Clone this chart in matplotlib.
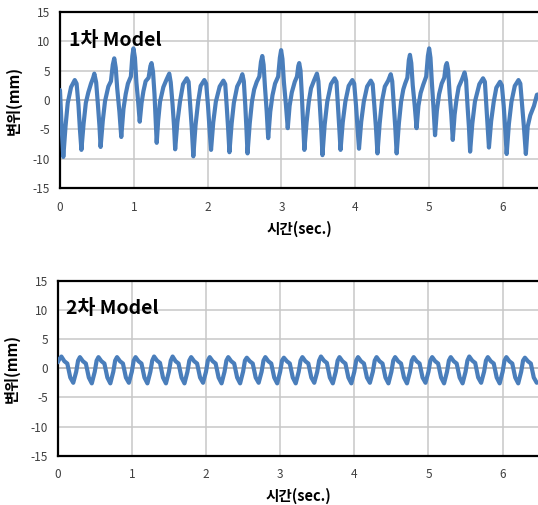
import matplotlib
matplotlib.use('Agg')
import matplotlib.pyplot as plt

plt.rcParams['font.family'] = ['Noto Sans CJK KR', 'DejaVu Sans']
plt.rcParams['axes.unicode_minus'] = False

# ---------------------
# data
# ---------------------
x_ticks = [0, 1, 2, 3, 4, 5, 6]
y_ticks = [-15, -10, -5, 0, 5, 10, 15]
titles = ['1차 Model', '2차 Model']
x_label = '시간(sec.)'
y_label = '변위(mm)'

# 1차 Model displacement
t1 = [0.000, 0.020, 0.045, 0.075, 0.105, 0.150, 0.200, 0.225, 0.250, 0.270,
      0.290, 0.320, 0.350, 0.384, 0.420, 0.450, 0.465, 0.490, 0.515, 0.535,
      0.550, 0.580, 0.610, 0.655, 0.690, 0.715, 0.735, 0.755, 0.775, 0.805,
      0.830, 0.860, 0.890, 0.920, 0.960, 0.980, 0.995, 1.015, 1.035, 1.060,
      1.080, 1.105, 1.130, 1.160, 1.200, 1.225, 1.240, 1.260, 1.280, 1.295,
      1.310, 1.330, 1.355, 1.400, 1.440, 1.480, 1.500, 1.525, 1.545,
      1.560, 1.590, 1.625, 1.667, 1.717, 1.742, 1.765, 1.785,
      1.806, 1.836, 1.871, 1.905, 1.955, 1.980, 2.005, 2.025,
      2.046, 2.076, 2.111, 2.163, 2.213, 2.238, 2.258, 2.277,
      2.295, 2.325, 2.355, 2.400, 2.440, 2.470, 2.490, 2.510, 2.525,
      2.540, 2.570, 2.600, 2.630, 2.665, 2.700, 2.722, 2.740, 2.758, 2.775, 2.800,
      2.820, 2.848, 2.878, 2.913, 2.955, 2.978, 2.995, 3.013, 3.033, 3.060,
      3.085, 3.110, 3.140, 3.180, 3.210, 3.228, 3.240, 3.258, 3.275, 3.292,
      3.310, 3.340, 3.370, 3.400, 3.440, 3.480, 3.500, 3.520, 3.538,
      3.555, 3.585, 3.620, 3.670, 3.720, 3.745, 3.765, 3.783,
      3.800, 3.830, 3.865, 3.910, 3.960, 3.985, 4.010, 4.030,
      4.050, 4.080, 4.115, 4.160, 4.210, 4.235, 4.258, 4.280,
      4.300, 4.330, 4.360, 4.400, 4.445, 4.480, 4.500, 4.522, 4.542,
      4.560, 4.590, 4.620, 4.650, 4.675, 4.705, 4.725, 4.740, 4.758, 4.778, 4.805,
      4.830, 4.855, 4.885, 4.920, 4.960, 4.983, 5.000, 5.018, 5.037, 5.060,
      5.080, 5.105, 5.135, 5.170, 5.205, 5.225, 5.240, 5.258, 5.277, 5.300,
      5.320, 5.345, 5.370, 5.400, 5.445, 5.480, 5.500, 5.520, 5.540,
      5.555, 5.585, 5.620, 5.680, 5.730, 5.755, 5.775, 5.793,
      5.810, 5.840, 5.875, 5.910, 5.960, 5.985, 6.010, 6.030,
      6.050, 6.080, 6.115, 6.160, 6.210, 6.235, 6.260, 6.285,
      6.310, 6.335, 6.370, 6.420, 6.460, 6.500]
d1 = [1.7, -4.0, -9.7, -4.5, -0.5, 2.2, 3.4, 2.8, -0.8, -5.0,
      -8.5, -4.0, -0.5, 1.3, 2.8, 3.8, 4.5, 3.0, -1.0, -4.5,
      -8.0, -3.5, -0.2, 2.3, 3.2, 6.0, 7.1, 5.5, 2.0, -2.0,
      -6.3, -1.5, 1.0, 2.8, 4.0, 7.5, 8.8, 7.2, 3.0, -0.5,
      -3.7, -0.5, 1.5, 3.2, 3.8, 5.8, 6.3, 4.8, 1.0, -3.0,
      -7.3, -3.5, -0.3, 2.2, 3.4, 4.5, 3.0, -0.8, -4.5,
      -8.4, -3.8, -0.3, 2.7, 3.7, 3.1, -1.0, -4.8,
      -9.6, -4.3, -0.3, 2.4, 3.4, 2.8, -1.0, -4.8,
      -8.5, -3.8, -0.3, 2.3, 3.3, 2.7, -1.0, -4.8,
      -8.9, -4.0, -0.5, 2.3, 3.3, 4.4, 3.2, -1.0, -4.8,
      -9.1, -4.0, -0.3, 1.8, 3.1, 4.0, 6.5, 7.5, 6.0, 2.5, -2.0,
      -6.5, -2.0, 0.8, 2.8, 4.0, 7.2, 8.5, 7.0, 3.0, -0.8,
      -4.8, -1.0, 1.3, 3.1, 4.0, 5.8, 6.3, 5.0, 1.0, -3.5,
      -8.5, -3.8, -0.3, 2.0, 3.3, 4.5, 3.2, -1.0, -4.8,
      -9.4, -4.2, -0.3, 2.7, 3.7, 3.1, -1.0, -4.8,
      -8.5, -3.8, -0.3, 2.4, 3.4, 2.8, -1.0, -4.8,
      -8.3, -3.7, -0.3, 2.3, 3.3, 2.7, -1.0, -4.8,
      -9.1, -4.0, -0.3, 2.3, 3.3, 4.4, 3.2, -1.0, -4.8,
      -9.1, -4.0, -0.3, 1.8, 2.8, 3.8, 6.8, 7.7, 6.3, 2.5, -1.0,
      -4.8, -1.0, 1.2, 2.6, 4.0, 7.5, 8.8, 7.2, 3.0, -1.5,
      -6.0, -1.8, 1.0, 2.8, 3.8, 5.8, 6.3, 5.0, 1.2, -2.5,
      -6.8, -2.5, 0.0, 2.2, 3.5, 4.7, 3.4, -1.0, -4.8,
      -8.8, -4.0, -0.3, 2.7, 3.7, 3.1, -1.0, -4.8,
      -8.1, -3.6, -0.3, 2.1, 3.1, 2.5, -1.0, -4.8,
      -9.2, -4.1, -0.3, 2.4, 3.4, 2.8, -1.0, -4.8,
      -9.2, -4.5, -2.6, -1.0, 0.9, 1.0]

# 2차 Model displacement
t2 = [0.00, 0.02,
      0.05, 0.09, 0.13, 0.17, 0.21, 0.25, 0.275,
      0.30, 0.34, 0.38, 0.42, 0.46, 0.50, 0.525,
      0.55, 0.59, 0.63, 0.67, 0.71, 0.75, 0.775,
      0.80, 0.84, 0.88, 0.92, 0.96, 1.00, 1.025,
      1.05, 1.09, 1.13, 1.17, 1.21, 1.25, 1.275,
      1.30, 1.34, 1.38, 1.42, 1.46, 1.50, 1.525,
      1.55, 1.59, 1.63, 1.67, 1.71, 1.75, 1.775,
      1.80, 1.84, 1.88, 1.92, 1.96, 2.00, 2.025,
      2.05, 2.09, 2.13, 2.17, 2.21, 2.25, 2.275,
      2.30, 2.34, 2.38, 2.42, 2.46, 2.50, 2.525,
      2.55, 2.59, 2.63, 2.67, 2.71, 2.75, 2.775,
      2.80, 2.84, 2.88, 2.92, 2.96, 3.00, 3.025,
      3.05, 3.09, 3.13, 3.17, 3.21, 3.25, 3.275,
      3.30, 3.34, 3.38, 3.42, 3.46, 3.50, 3.525,
      3.55, 3.59, 3.63, 3.67, 3.71, 3.75, 3.775,
      3.80, 3.84, 3.88, 3.92, 3.96, 4.00, 4.025,
      4.05, 4.09, 4.13, 4.17, 4.21, 4.25, 4.275,
      4.30, 4.34, 4.38, 4.42, 4.46, 4.50, 4.525,
      4.55, 4.59, 4.63, 4.67, 4.71, 4.75, 4.775,
      4.80, 4.84, 4.88, 4.92, 4.96, 5.00, 5.025,
      5.05, 5.09, 5.13, 5.17, 5.21, 5.25, 5.275,
      5.30, 5.34, 5.38, 5.42, 5.46, 5.50, 5.525,
      5.55, 5.59, 5.63, 5.67, 5.71, 5.75, 5.775,
      5.80, 5.84, 5.88, 5.92, 5.96, 6.00, 6.025,
      6.05, 6.09, 6.13, 6.17, 6.21, 6.25, 6.275,
      6.30, 6.34, 6.38, 6.42, 6.46]
d2 = [1.0, 1.5,
      2.0, 1.2, 0.8, -1.6, -2.5, -0.6, 1.3,
      1.9, 1.2, 0.8, -1.6, -2.6, -0.6, 1.3,
      1.9, 1.2, 0.8, -1.6, -2.6, -0.6, 1.3,
      1.9, 1.2, 0.8, -1.6, -2.5, -0.6, 1.3,
      1.9, 1.2, 0.8, -1.6, -2.6, -0.6, 1.3,
      2.0, 1.3, 0.9, -1.6, -2.6, -0.6, 1.3,
      2.0, 1.2, 0.8, -1.6, -2.6, -0.6, 1.3,
      1.9, 1.2, 0.8, -1.6, -2.5, -0.6, 1.3,
      1.9, 1.2, 0.8, -1.6, -2.6, -0.6, 1.3,
      1.9, 1.2, 0.8, -1.6, -2.6, -0.6, 1.3,
      1.8, 1.2, 0.8, -1.6, -2.5, -0.6, 1.3,
      1.9, 1.2, 0.8, -1.6, -2.6, -0.6, 1.3,
      1.8, 1.2, 0.8, -1.6, -2.6, -0.6, 1.3,
      1.9, 1.2, 0.8, -1.6, -2.5, -0.6, 1.3,
      2.0, 1.3, 0.9, -1.6, -2.6, -0.6, 1.3,
      1.9, 1.2, 0.8, -1.6, -2.6, -0.6, 1.3,
      1.9, 1.2, 0.8, -1.6, -2.5, -0.6, 1.3,
      1.9, 1.2, 0.8, -1.6, -2.6, -0.6, 1.3,
      1.9, 1.2, 0.8, -1.6, -2.6, -0.6, 1.3,
      1.9, 1.2, 0.8, -1.6, -2.5, -0.6, 1.3,
      1.9, 1.2, 0.8, -1.6, -2.6, -0.6, 1.3,
      1.9, 1.2, 0.8, -1.6, -2.6, -0.6, 1.3,
      2.0, 1.3, 0.9, -1.6, -2.5, -0.6, 1.3,
      1.9, 1.2, 0.8, -1.6, -2.6, -0.6, 1.3,
      1.9, 1.2, 0.8, -1.6, -2.6, -0.6, 1.3,
      1.8, 1.2, 0.8, -1.6, -2.5]

series = [(t1, d1), (t2, d2)]

fig = plt.figure(figsize=(5.38, 5.05), dpi=100)
ax_top = fig.add_axes([0.1115, 0.6277, 0.892, 0.3485])
ax_bot = fig.add_axes([0.1072, 0.0976, 0.896, 0.3466])

for ax, (t, d), title in zip([ax_top, ax_bot], series, titles):
    ax.plot(t, d, color='#4A7EBB', lw=3.0, solid_joinstyle='round',
            solid_capstyle='round', zorder=3)
    ax.set_xlim(0, 6.5)
    ax.set_ylim(-15, 15)
    ax.set_xticks(x_ticks)
    ax.set_yticks(y_ticks)
    ax.grid(True, color='#C8C8C8', lw=1.1, zorder=0)
    ax.axhline(0, color='#808080', lw=1.1, zorder=1)
    ax.tick_params(length=0, labelsize=8.5, labelcolor='#404040', pad=9)
    ax.tick_params(axis='y', pad=7)
    for side in ['left', 'top', 'bottom']:
        ax.spines[side].set_linewidth(1.6)
        ax.spines[side].set_color('black')
    ax.spines['right'].set_visible(False)
    ax.set_xlabel(x_label, fontsize=10.5, fontweight='bold', labelpad=5)
    ax.set_ylabel(y_label, fontsize=11, fontweight='bold', labelpad=8)
    ax.text(0.018, 0.84, title, transform=ax.transAxes, fontsize=14,
            fontweight='bold', ha='left', va='center', zorder=4)

plt.savefig('out.png', dpi=100)
